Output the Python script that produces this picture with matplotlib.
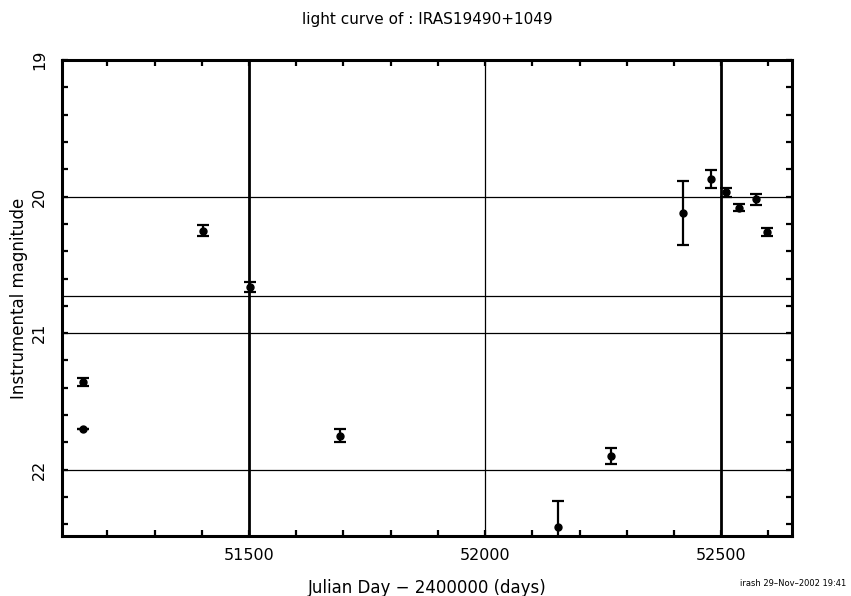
import numpy as np
import matplotlib
matplotlib.use('Agg')
import matplotlib.pyplot as plt
from matplotlib.ticker import MultipleLocator

# julian day - 2400000, instrumental magnitude, error
jd = [51148, 51148, 51402, 51502, 51693, 52155, 52267, 52419, 52479, 52511, 52537, 52573, 52598]
mag = [21.36, 21.70, 20.25, 20.66, 21.75, 22.42, 21.90, 20.12, 19.87, 19.97, 20.08, 20.02, 20.26]
err = [0.03, 0.0, 0.04, 0.037, 0.045, 0.19, 0.06, 0.237, 0.066, 0.036, 0.025, 0.04, 0.028]

hlines = [20.0, 20.73, 21.0, 22.0]
vlines_thick = [51500, 52500]
vlines_thin = [52000]

title = 'light curve of : IRAS19490+1049'
xlabel = 'Julian Day \u2212 2400000 (days)'
ylabel = 'Instrumental magnitude'
footer = 'irash 29\u2013Nov\u20132002 19:41'

fig = plt.figure(figsize=(8.51, 5.96), dpi=100)
ax = fig.add_axes([0.0729, 0.1007, 0.8578, 0.7986])

for h in hlines:
    ax.axhline(h, color='black', lw=0.9, zorder=1)
for v in vlines_thick:
    ax.axvline(v, color='black', lw=2.0, zorder=1)
for v in vlines_thin:
    ax.axvline(v, color='black', lw=0.9, zorder=1)

ax.errorbar(jd, mag, yerr=err, fmt='o', color='black', ms=5, elinewidth=1.6,
            capsize=4.5, capthick=1.6, zorder=3)

ax.set_xlim(51104, 52650)
ax.set_ylim(22.485, 19.0)

ax.xaxis.set_major_locator(MultipleLocator(500))
ax.xaxis.set_minor_locator(MultipleLocator(100))
ax.yaxis.set_major_locator(MultipleLocator(1))
ax.yaxis.set_minor_locator(MultipleLocator(0.2))

ax.tick_params(which='both', direction='in', top=True, right=True, width=1.6, color='black',
               length=4)
ax.tick_params(which='major', labelsize=11.5)
ax.tick_params(axis='x', which='major', pad=9)
ax.tick_params(axis='y', which='major', pad=11)
for lab in ax.get_yticklabels():
    lab.set_rotation(90)
    lab.set_va('center')

for s in ax.spines.values():
    s.set_linewidth(2.2)

ax.set_title(title, fontsize=11, pad=26)
ax.set_xlabel(xlabel, fontsize=12, labelpad=11)
ax.set_ylabel(ylabel, fontsize=12, labelpad=3)
fig.text(0.995, 0.013, footer, fontsize=6, ha='right', va='bottom')

fig.savefig('out.png', dpi=100)
